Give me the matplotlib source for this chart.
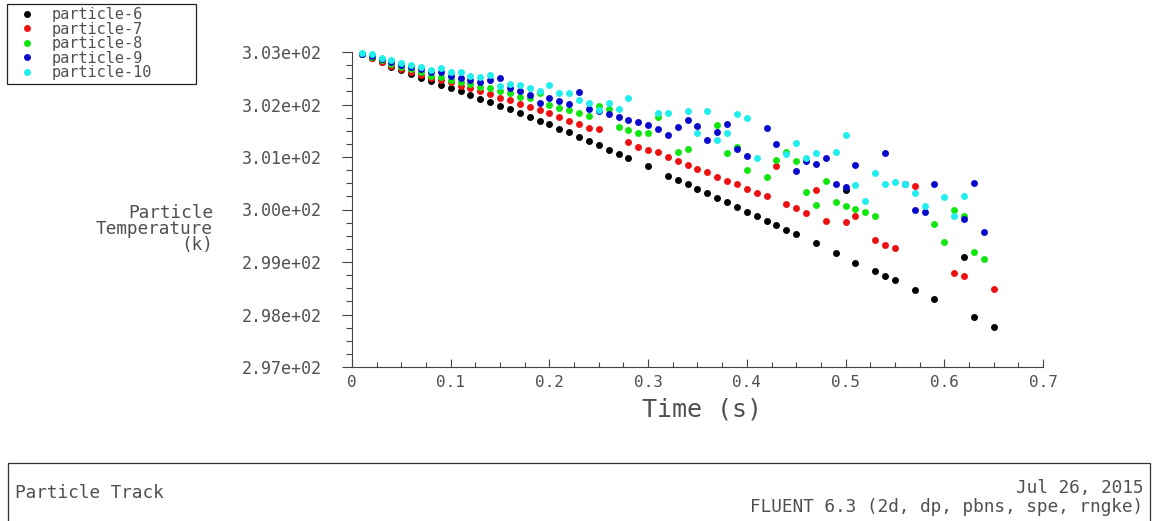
import matplotlib
matplotlib.use('Agg')
import matplotlib.pyplot as plt
from matplotlib.ticker import MultipleLocator, FuncFormatter
from matplotlib.patches import Rectangle

plt.rcParams['font.family'] = ['DejaVu Sans Mono', 'DejaVu Sans']

# particle tracks: time (s) and particle temperature (k)
t6 = [0.01, 0.02, 0.03, 0.04, 0.05, 0.06, 0.07, 0.08, 0.09, 0.10, 0.11, 0.12, 0.13, 0.14,
      0.15, 0.16, 0.17, 0.18, 0.19, 0.20, 0.21, 0.22, 0.23, 0.24, 0.25, 0.26, 0.27, 0.28,
      0.30, 0.32, 0.33, 0.34, 0.35, 0.36, 0.37, 0.38, 0.39, 0.40, 0.41, 0.42, 0.43, 0.44,
      0.45, 0.47, 0.49, 0.50, 0.51, 0.53, 0.54, 0.55, 0.57, 0.59, 0.62, 0.63, 0.65]
T6 = [302.96, 302.88, 302.81, 302.72, 302.65, 302.58, 302.51, 302.45, 302.38, 302.31, 302.25,
      302.18, 302.11, 302.05, 301.98, 301.91, 301.84, 301.76, 301.68, 301.62, 301.53, 301.47,
      301.38, 301.30, 301.22, 301.13, 301.06, 300.98, 300.82, 300.64, 300.56, 300.48, 300.39,
      300.31, 300.22, 300.14, 300.04, 299.95, 299.87, 299.79, 299.70, 299.61, 299.53, 299.36,
      299.17, 300.37, 298.99, 298.82, 298.73, 298.65, 298.47, 298.30, 299.10, 297.96, 297.77]

t7 = [0.01, 0.02, 0.03, 0.04, 0.05, 0.06, 0.07, 0.08, 0.09, 0.10, 0.11, 0.12, 0.13, 0.14,
      0.15, 0.16, 0.17, 0.18, 0.19, 0.20, 0.21, 0.22, 0.23, 0.24, 0.25, 0.28, 0.29, 0.30,
      0.31, 0.32, 0.33, 0.34, 0.35, 0.36, 0.37, 0.38, 0.39, 0.40, 0.41, 0.42, 0.43, 0.44,
      0.45, 0.46, 0.47, 0.48, 0.50, 0.51, 0.53, 0.54, 0.55, 0.57, 0.61, 0.62, 0.65]
T7 = [302.96, 302.89, 302.81, 302.74, 302.68, 302.62, 302.56, 302.51, 302.46, 302.42, 302.36,
      302.31, 302.26, 302.20, 302.13, 302.08, 302.01, 301.96, 301.90, 301.83, 301.76, 301.69,
      301.63, 301.56, 301.53, 301.29, 301.20, 301.13, 301.10, 301.00, 300.92, 300.84, 300.77,
      300.71, 300.62, 300.55, 300.48, 300.40, 300.32, 300.25, 300.82, 300.10, 300.02, 299.94,
      300.38, 299.79, 299.77, 299.88, 299.41, 299.32, 299.26, 300.45, 298.80, 298.73, 298.48]

t8 = [0.01, 0.02, 0.03, 0.04, 0.05, 0.06, 0.07, 0.08, 0.09, 0.10, 0.11, 0.12, 0.13, 0.14,
      0.15, 0.16, 0.17, 0.18, 0.19, 0.20, 0.21, 0.22, 0.23, 0.24, 0.25, 0.26, 0.27, 0.28,
      0.29, 0.30, 0.31, 0.33, 0.34, 0.37, 0.38, 0.39, 0.40, 0.42, 0.43, 0.44, 0.45, 0.46,
      0.47, 0.48, 0.49, 0.50, 0.51, 0.52, 0.53, 0.59, 0.60, 0.61, 0.62, 0.63, 0.64]
T8 = [302.96, 302.90, 302.84, 302.78, 302.72, 302.67, 302.62, 302.55, 302.53, 302.47, 302.43,
      302.39, 302.34, 302.31, 302.26, 302.22, 302.14, 302.12, 302.21, 301.99, 301.93, 301.90,
      301.83, 301.79, 301.98, 301.91, 301.57, 301.51, 301.45, 301.46, 301.76, 301.10, 301.15,
      301.61, 301.08, 301.20, 300.75, 300.61, 300.94, 301.09, 300.93, 300.34, 300.09, 300.55,
      300.14, 300.07, 300.01, 299.95, 299.87, 299.72, 299.38, 300.00, 299.88, 299.20, 299.05]

t9 = [0.01, 0.02, 0.03, 0.04, 0.05, 0.06, 0.07, 0.08, 0.09, 0.10, 0.11, 0.12, 0.13, 0.14,
      0.15, 0.16, 0.17, 0.18, 0.19, 0.20, 0.21, 0.22, 0.23, 0.24, 0.25, 0.26, 0.27, 0.28,
      0.29, 0.30, 0.31, 0.32, 0.33, 0.34, 0.35, 0.36, 0.37, 0.38, 0.39, 0.40, 0.42, 0.43,
      0.45, 0.46, 0.47, 0.48, 0.49, 0.50, 0.51, 0.54, 0.56, 0.57, 0.58, 0.59, 0.62, 0.63, 0.64]
T9 = [302.97, 302.93, 302.87, 302.81, 302.76, 302.71, 302.67, 302.62, 302.61, 302.55, 302.51,
      302.47, 302.43, 302.47, 302.51, 302.31, 302.26, 302.18, 302.03, 302.13, 302.07, 302.01,
      302.24, 301.91, 301.88, 301.82, 301.76, 301.70, 301.66, 301.60, 301.53, 301.42, 301.58,
      301.70, 301.59, 301.32, 301.48, 301.63, 301.15, 301.02, 301.55, 301.24, 300.74, 300.92,
      300.87, 300.98, 300.48, 300.42, 300.84, 301.07, 300.48, 300.00, 299.95, 300.48, 299.81,
      300.50, 299.58]

t10 = [0.01, 0.02, 0.03, 0.04, 0.05, 0.06, 0.07, 0.08, 0.09, 0.10, 0.11, 0.12, 0.13, 0.14,
       0.15, 0.16, 0.17, 0.18, 0.19, 0.20, 0.21, 0.22, 0.23, 0.24, 0.25, 0.26, 0.27, 0.28,
       0.31, 0.32, 0.34, 0.35, 0.36, 0.37, 0.38, 0.39, 0.40, 0.41, 0.44, 0.45, 0.46, 0.47,
       0.49, 0.50, 0.51, 0.52, 0.53, 0.54, 0.55, 0.56, 0.57, 0.58, 0.60, 0.61, 0.62]
T10 = [302.98, 302.96, 302.89, 302.85, 302.80, 302.75, 302.72, 302.65, 302.70, 302.62, 302.62,
       302.54, 302.52, 302.56, 302.35, 302.40, 302.37, 302.31, 302.26, 302.37, 302.21, 302.21,
       302.09, 302.03, 301.90, 302.02, 301.91, 302.12, 301.83, 301.83, 301.88, 301.46, 301.87,
       301.32, 301.46, 301.82, 301.74, 300.99, 301.05, 301.27, 300.99, 301.07, 301.10, 301.41,
       300.47, 300.16, 300.69, 300.49, 300.52, 300.49, 300.32, 300.07, 300.24, 299.87, 300.25]

names = ['particle-6', 'particle-7', 'particle-8', 'particle-9', 'particle-10']
colors = ['#000000', '#ee1111', '#11e611', '#0a0acc', '#22eeee']
times = [t6, t7, t8, t9, t10]
temps = [T6, T7, T8, T9, T10]

W, H = 1157, 521
txtcol = '#505050'
fig = plt.figure(figsize=(W / 100, H / 100), dpi=100)
ax = fig.add_axes([352 / W, 1 - 367 / H, 691 / W, 315 / H])

for t, T, c, n in zip(times, temps, colors, names):
    ax.plot(t, T, 'o', color=c, markersize=5.0, markeredgewidth=0, label=n, clip_on=False)

ax.set_xlim(0, 0.7)
ax.set_ylim(297, 303)

axcol = '#444444'
ax.spines['top'].set_visible(False)
ax.spines['right'].set_visible(False)
ax.spines['left'].set_color(axcol)
ax.spines['bottom'].set_color(axcol)

ax.xaxis.set_major_locator(MultipleLocator(0.1))
ax.xaxis.set_minor_locator(MultipleLocator(0.025))
ax.yaxis.set_major_locator(MultipleLocator(1))
ax.yaxis.set_minor_locator(MultipleLocator(0.25))
ax.xaxis.set_major_formatter(FuncFormatter(lambda v, p: '0' if abs(v) < 1e-9 else '%g' % v))
ax.yaxis.set_major_formatter(FuncFormatter(lambda v, p: '%.2e' % v))

ax.tick_params(axis='x', which='major', direction='in', length=6, width=0.8,
               colors=axcol, labelsize=11.5, pad=6)
ax.tick_params(axis='x', which='minor', direction='in', length=3.5, width=0.8, colors=axcol)
ax.tick_params(axis='y', which='major', direction='out', length=7, width=0.8,
               colors=axcol, labelsize=12, pad=15)
ax.tick_params(axis='y', which='minor', direction='out', length=4, width=0.8, colors=axcol)
for lab in ax.get_xticklabels() + ax.get_yticklabels():
    lab.set_color(txtcol)

fig.text(702 / W, 1 - 410 / H, 'Time (s)', ha='center', va='center',
         fontsize=18, color=txtcol)
fig.text(213 / W, 1 - 229 / H, 'Particle\nTemperature\n(k)', ha='right', va='center',
         multialignment='right', fontsize=12.8, linespacing=0.88, color=txtcol)

# legend without its own frame; the box is drawn separately to get the wide look
leg = fig.legend(loc='upper left', bbox_to_anchor=(20 / W, 1 - 7 / H), borderaxespad=0,
                 frameon=False, fontsize=11, labelspacing=-0.03, handlelength=0.9,
                 handletextpad=1.2, borderpad=0.0, markerscale=1.0)
for txt in leg.get_texts():
    txt.set_color(txtcol)
fig.patches.append(Rectangle((7 / W, 1 - 84 / H), 189 / W, 80 / H,
                             transform=fig.transFigure, fill=False,
                             edgecolor='#222222', linewidth=0.9))

# footer box
fig.patches.append(Rectangle((8 / W, -0.05), 1142 / W, 1 - 463 / H + 0.05,
                             transform=fig.transFigure, fill=False,
                             edgecolor='#333333', linewidth=0.9))
fig.text(15 / W, 1 - 493 / H, 'Particle Track', ha='left', va='center',
         fontsize=12.8, color=txtcol)
fig.text(1143 / W, 1 - 488 / H, 'Jul 26, 2015', ha='right', va='center',
         fontsize=12.8, color=txtcol)
fig.text(1143 / W, 1 - 507 / H, 'FLUENT 6.3 (2d, dp, pbns, spe, rngke)', ha='right',
         va='center', fontsize=12.8, color=txtcol)

fig.savefig('out.png', dpi=100)
